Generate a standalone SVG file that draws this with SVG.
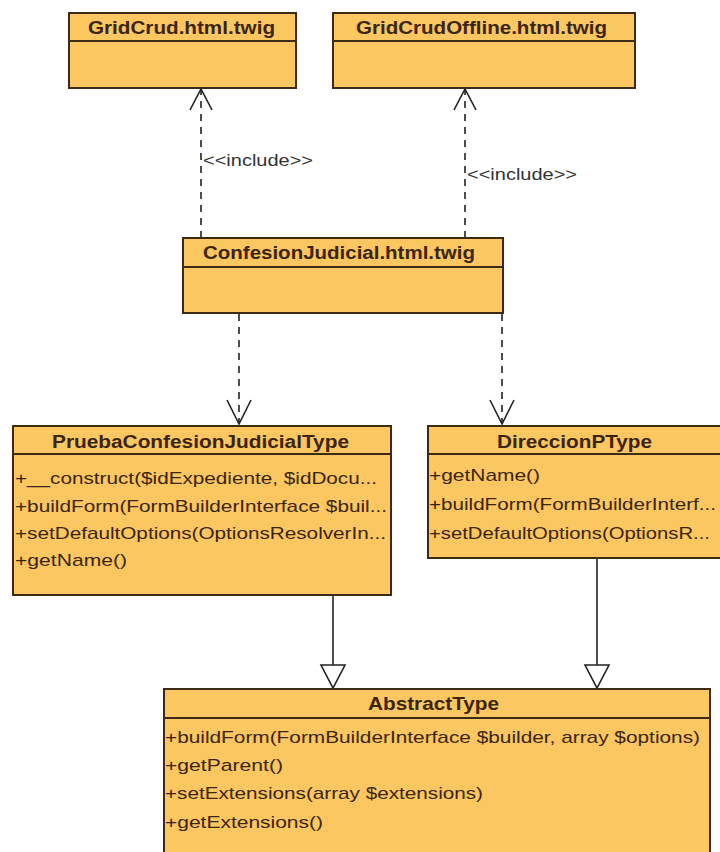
<svg xmlns="http://www.w3.org/2000/svg" width="720" height="852" viewBox="0 0 720 852">
  <style>
    .box { fill: #fcc660; stroke: #3d2a14; stroke-width: 2; }
    .div { stroke: #3d2a14; stroke-width: 2; }
    .title { font-family: "Liberation Sans", Arial, sans-serif; font-weight: bold; font-size: 18px; fill: #3a2510; }
    .op { font-family: "Liberation Sans", Arial, sans-serif; font-size: 17px; fill: #3a2510; }
    .lbl { font-family: "Liberation Sans", Arial, sans-serif; font-size: 17px; fill: #333; }
    .dep { stroke: #222; stroke-width: 1.6; fill: none; stroke-dasharray: 7 6; }
    .gen { stroke: #222; stroke-width: 1.6; fill: none; }
    .head { stroke: #222; stroke-width: 1.6; fill: none; }
    .tri { stroke: #222; stroke-width: 1.6; fill: #fff; }
  </style>
  <rect width="720" height="852" fill="#ffffff"/>

  <!-- connectors -->
  <g id="connectors">
    <!-- include: ConfesionJudicial -> GridCrud -->
    <line class="dep" x1="201" y1="238" x2="201" y2="90"/>
    <polyline class="head" points="190,110 201,89 212,110"/>
    <text class="lbl" x="203" y="166" textLength="110" lengthAdjust="spacingAndGlyphs">&lt;&lt;include&gt;&gt;</text>
    <!-- include: ConfesionJudicial -> GridCrudOffline -->
    <line class="dep" x1="465" y1="238" x2="465" y2="90"/>
    <polyline class="head" points="454,110 465,89 476,110"/>
    <text class="lbl" x="467" y="180" textLength="110" lengthAdjust="spacingAndGlyphs">&lt;&lt;include&gt;&gt;</text>
    <!-- dependency: ConfesionJudicial -> PruebaConfesionJudicialType -->
    <line class="dep" x1="239" y1="314" x2="239" y2="423"/>
    <polyline class="head" points="227,400 239,424 251,400"/>
    <!-- dependency: ConfesionJudicial -> DireccionPType -->
    <line class="dep" x1="502" y1="314" x2="502" y2="423"/>
    <polyline class="head" points="490,400 502,424 514,400"/>
    <!-- generalization: PruebaConfesionJudicialType -> AbstractType -->
    <line class="gen" x1="333" y1="596" x2="333" y2="665"/>
    <polygon class="tri" points="321,665 345,665 333,688"/>
    <!-- generalization: DireccionPType -> AbstractType -->
    <line class="gen" x1="597" y1="559" x2="597" y2="665"/>
    <polygon class="tri" points="585,665 609,665 597,688"/>
  </g>

  <g id="GridCrud">
    <rect class="box" x="69" y="13" width="227" height="75"/>
    <line class="div" x1="69" y1="41" x2="296" y2="41"/>
    <text class="title" x="88" y="34" textLength="187" lengthAdjust="spacingAndGlyphs">GridCrud.html.twig</text>
  </g>

  <g id="GridCrudOffline">
    <rect class="box" x="333" y="13" width="302" height="75"/>
    <line class="div" x1="333" y1="41" x2="635" y2="41"/>
    <text class="title" x="356" y="34" textLength="251" lengthAdjust="spacingAndGlyphs">GridCrudOffline.html.twig</text>
  </g>

  <g id="ConfesionJudicial">
    <rect class="box" x="183" y="238" width="320" height="75"/>
    <line class="div" x1="183" y1="267" x2="503" y2="267"/>
    <text class="title" x="203" y="259" textLength="272" lengthAdjust="spacingAndGlyphs">ConfesionJudicial.html.twig</text>
  </g>

  <g id="PruebaConfesionJudicialType">
    <rect class="box" x="13" y="426" width="378" height="169"/>
    <line class="div" x1="13" y1="454" x2="391" y2="454"/>
    <text class="title" x="52" y="448" textLength="297" lengthAdjust="spacingAndGlyphs">PruebaConfesionJudicialType</text>
    <text class="op" x="15" y="484" textLength="362" lengthAdjust="spacingAndGlyphs">+__construct($idExpediente, $idDocu...</text>
    <text class="op" x="15" y="512" textLength="372" lengthAdjust="spacingAndGlyphs">+buildForm(FormBuilderInterface $buil...</text>
    <text class="op" x="15" y="539" textLength="371" lengthAdjust="spacingAndGlyphs">+setDefaultOptions(OptionsResolverIn...</text>
    <text class="op" x="15" y="566" textLength="112" lengthAdjust="spacingAndGlyphs">+getName()</text>
  </g>

  <g id="DireccionPType">
    <rect class="box" x="428" y="426" width="294" height="132"/>
    <line class="div" x1="428" y1="454" x2="722" y2="454"/>
    <text class="title" x="497" y="448" textLength="155" lengthAdjust="spacingAndGlyphs">DireccionPType</text>
    <text class="op" x="429" y="481" textLength="111" lengthAdjust="spacingAndGlyphs">+getName()</text>
    <text class="op" x="429" y="510" textLength="287" lengthAdjust="spacingAndGlyphs">+buildForm(FormBuilderInterf...</text>
    <text class="op" x="429" y="539" textLength="281" lengthAdjust="spacingAndGlyphs">+setDefaultOptions(OptionsR...</text>
  </g>

  <g id="AbstractType">
    <rect class="box" x="164" y="689" width="546" height="190"/>
    <line class="div" x1="164" y1="718" x2="710" y2="718"/>
    <text class="title" x="368" y="710" textLength="131" lengthAdjust="spacingAndGlyphs">AbstractType</text>
    <text class="op" x="165" y="743" textLength="535" lengthAdjust="spacingAndGlyphs">+buildForm(FormBuilderInterface $builder, array $options)</text>
    <text class="op" x="165" y="771" textLength="118" lengthAdjust="spacingAndGlyphs">+getParent()</text>
    <text class="op" x="165" y="799" textLength="318" lengthAdjust="spacingAndGlyphs">+setExtensions(array $extensions)</text>
    <text class="op" x="165" y="828" textLength="158" lengthAdjust="spacingAndGlyphs">+getExtensions()</text>
  </g>
</svg>
